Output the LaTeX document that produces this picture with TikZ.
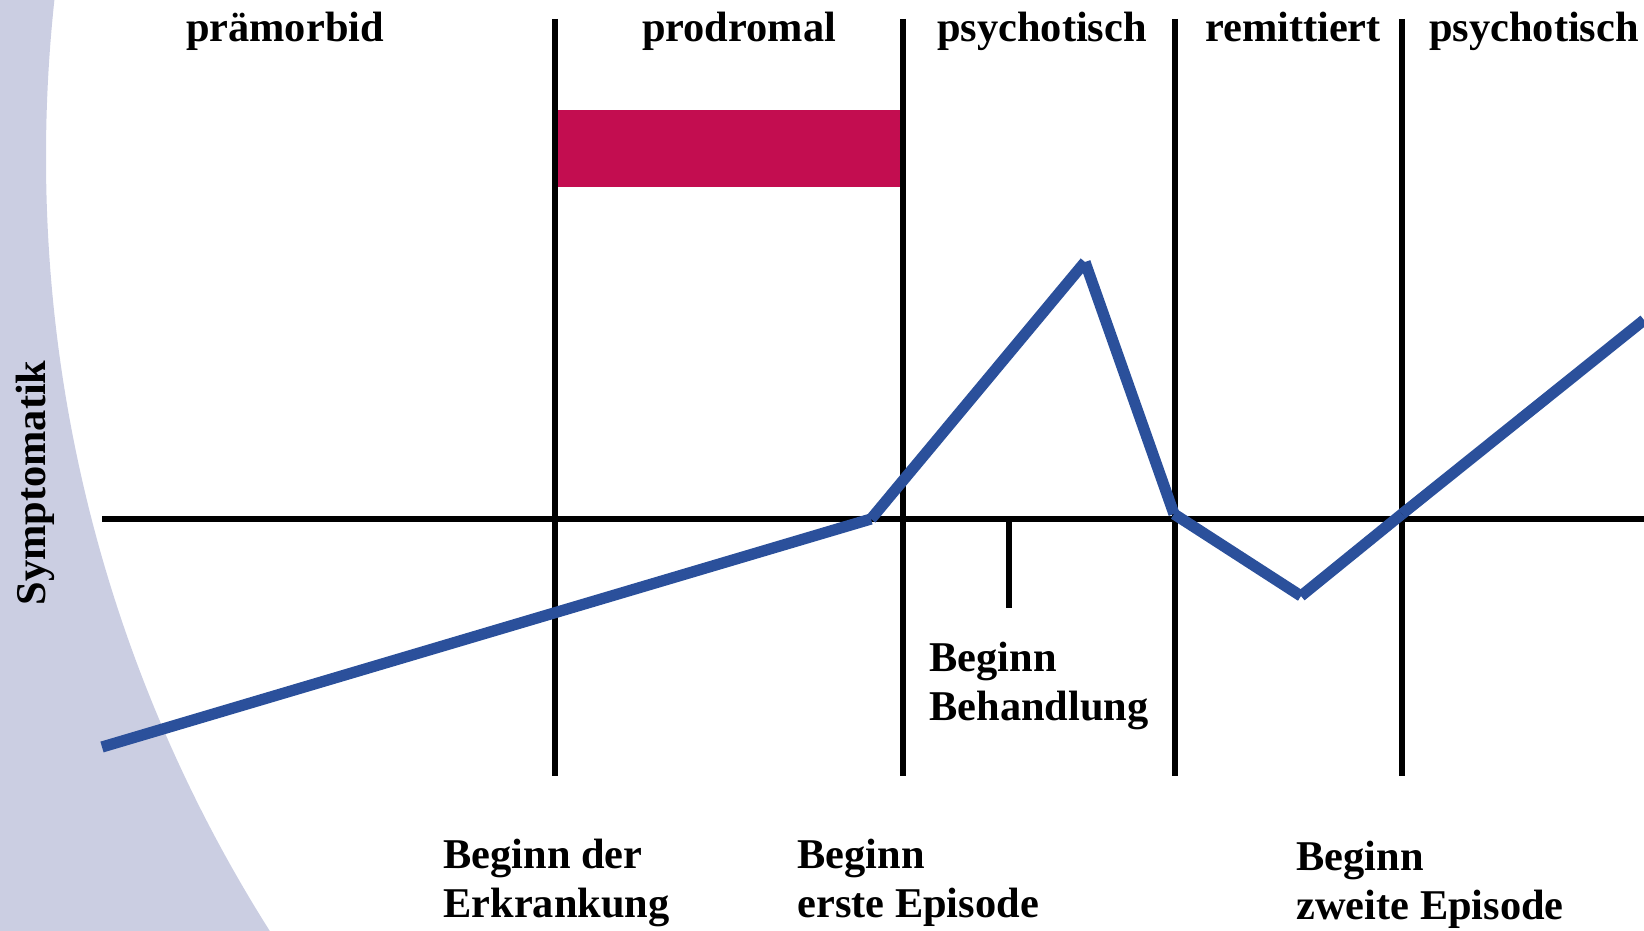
\documentclass[tikz,border=0pt]{standalone}
\usepackage{fontspec}
\setmainfont{Liberation Serif}
\definecolor{lav}{RGB}{203,206,226}
\definecolor{crim}{RGB}{195,13,80}
\definecolor{sblue}{RGB}{43,80,155}
\begin{document}
\begin{tikzpicture}[x=0.5pt,y=-0.5pt,
  lbl/.style={font=\fontsize{21.2}{24.5}\selectfont\bfseries, inner sep=0pt},
  blk/.style={draw=black, line width=2.8pt},
  curve/.style={draw=sblue, line width=5.6pt}]
\useasboundingbox (0,0) rectangle (1644,931);
% lavender background arc
\begin{scope}
\clip (0,0) rectangle (1644,931);
\fill[lav, even odd rule] (-10,-10) rectangle (1654,941) (1495,157) circle[radius=724.5pt];
\end{scope}
% red bar
\fill[crim] (555,110) rectangle (904,187);
% axis
\coordinate (axL) at (102,519);
\coordinate (axR) at (1644,519);
\draw[blk] (axL) -- (axR);
% vertical lines
\foreach \n/\x in {a/555,b/903,c/1175,d/1402}{
  \coordinate (\n t) at (\x,19);
  \coordinate (\n b) at (\x,776);
  \draw[blk] (\n t) -- (\n b);
}
% tick
\coordinate (tk1) at (1009,519);
\coordinate (tk2) at (1009,608);
\draw[blk] (tk1) -- (tk2);
% symptom curve
\coordinate (p1) at (102,747);
\coordinate (p3) at (871,519);
\coordinate (p4) at (1085,262);
\coordinate (p5) at (1174,514);
\coordinate (p6) at (1301,596);
\coordinate (p7) at (1402,514);
\coordinate (p8) at (1644,320);
\draw[curve] (p1) -- (p3);
\draw[curve] (p3) -- (p4);
\draw[curve] (p4) -- (p5);
\draw[curve] (p5) -- (p6);
\draw[curve] (p6) -- (p7);
\draw[curve] (p7) -- (p8);
% top labels
\node[lbl, anchor=base] (l1) at (285,42) {prämorbid};
\node[lbl, anchor=base] (l2) at (739,42) {prodromal};
\node[lbl, anchor=base] (l3) at (1042,42) {psychotisch};
\node[lbl, anchor=base] (l4) at (1293,42) {remittiert};
\node[lbl, anchor=base] (l5) at (1534,42) {psychotisch};
% y label
\node[lbl, rotate=90, anchor=base] (ylab) at (45,483) {Symptomatik};
% bottom labels (anchored at baseline of last line)
\node[lbl, anchor=base west, align=left] (bh) at (929,720) {Beginn\\Behandlung};
\node[lbl, anchor=base west, align=left] (be) at (443,917) {Beginn der\\Erkrankung};
\node[lbl, anchor=base west, align=left] (b1) at (797,917) {Beginn\\erste Episode};
\node[lbl, anchor=base west, align=left] (b2) at (1296,919) {Beginn\\zweite Episode};
\end{tikzpicture}
\end{document}
